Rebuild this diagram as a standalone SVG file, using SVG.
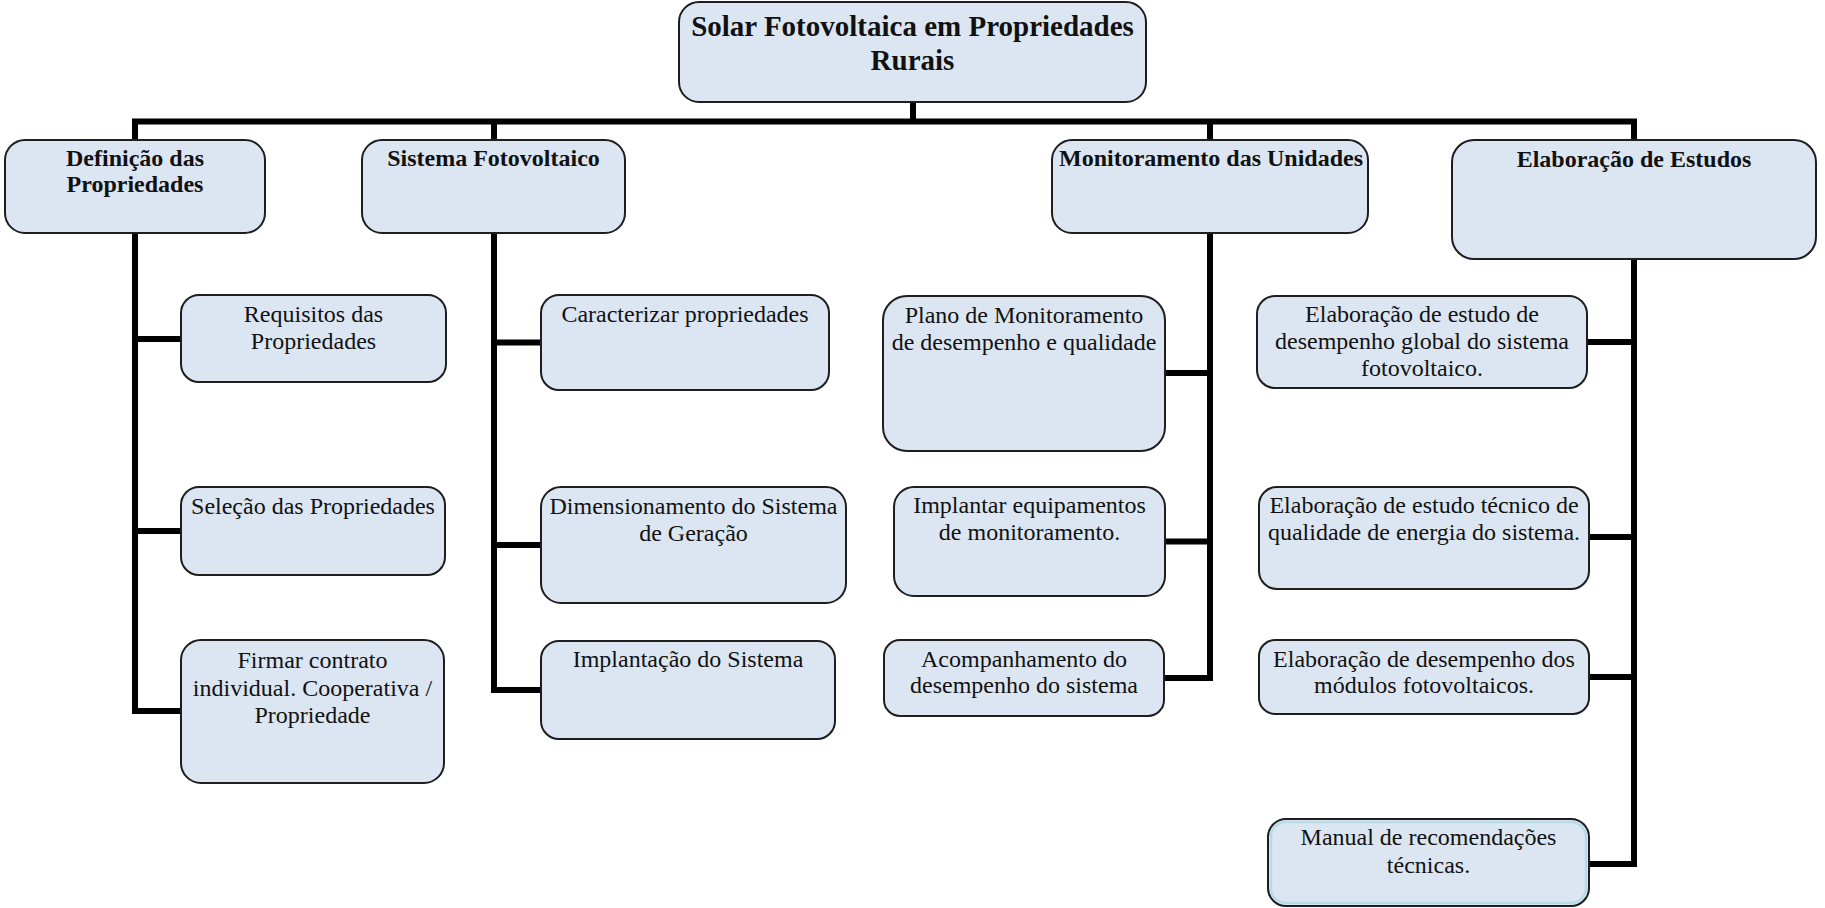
<svg xmlns="http://www.w3.org/2000/svg" width="1825" height="908" viewBox="0 0 1825 908">
<style>
.box{fill:#dce6f2;stroke:#1e1e1e;stroke-width:2}
.t{font-family:"Liberation Serif","Times New Roman",serif;font-size:24px;fill:#111;text-anchor:middle}
.h{font-weight:bold}
.r{font-size:29px;font-weight:bold}
.c{fill:none;stroke:#000;stroke-width:6;stroke-linejoin:miter;stroke-linecap:square}
</style>
<rect width="1825" height="908" fill="#fff"/>
<g id="connectors">
<path class="c" d="M913 102V121.5M135 121.5H1634M135 121.5V140M494 121.5V140M1210 121.5V140M1634 121.5V140"/>
<path class="c" d="M135 233V711M135 339H181M135 531H181M135 711H181"/>
<path class="c" d="M494 233V690M494 342.5H541M494 545H541M494 690H541"/>
<path class="c" d="M1210 233V678M1165 373H1210M1165 541.5H1210M1164 678H1210"/>
<path class="c" d="M1634 259V864M1587 342H1634M1589 537H1634M1589 677H1634M1589 864H1634"/>
</g>
<g id="root"><rect class="box" x="679" y="2" width="467" height="100" rx="20"/>
<text class="t r" x="912.5" y="36">Solar Fotovoltaica em Propriedades</text>
<text class="t r" x="912.5" y="70">Rurais</text></g>
<g id="definicao"><rect class="box" x="5" y="140" width="260" height="93" rx="20"/>
<text class="t h" x="135" y="166">Definição das</text>
<text class="t h" x="135" y="192">Propriedades</text></g>
<g id="sistema"><rect class="box" x="362" y="140" width="263" height="93" rx="20"/>
<text class="t h" x="493.5" y="166">Sistema Fotovoltaico</text></g>
<g id="monitoramento"><rect class="box" x="1052" y="140" width="316" height="93" rx="20"/>
<text class="t h" x="1211" y="166">Monitoramento das Unidades</text></g>
<g id="elaboracao"><rect class="box" x="1452" y="140" width="364" height="119" rx="22"/>
<text class="t h" x="1634" y="167">Elaboração de Estudos</text></g>
<g id="requisitos"><rect class="box" x="181" y="295" width="265" height="87" rx="18"/>
<text class="t" x="313.5" y="322">Requisitos das</text>
<text class="t" x="313.5" y="349">Propriedades</text></g>
<g id="selecao"><rect class="box" x="181" y="487" width="264" height="88" rx="18"/>
<text class="t" x="313" y="514">Seleção das Propriedades</text></g>
<g id="firmar"><rect class="box" x="181" y="640" width="263" height="143" rx="20"/>
<text class="t" x="312.5" y="668">Firmar contrato</text>
<text class="t" x="312.5" y="696">individual. Cooperativa /</text>
<text class="t" x="312.5" y="723">Propriedade</text></g>
<g id="caracterizar"><rect class="box" x="541" y="295" width="288" height="95" rx="18"/>
<text class="t" x="685" y="322">Caracterizar propriedades</text></g>
<g id="dimensionamento"><rect class="box" x="541" y="487" width="305" height="116" rx="20"/>
<text class="t" x="693.5" y="514">Dimensionamento do Sistema</text>
<text class="t" x="693.5" y="541">de Geração</text></g>
<g id="implantacao"><rect class="box" x="541" y="641" width="294" height="98" rx="18"/>
<text class="t" x="688" y="667">Implantação do Sistema</text></g>
<g id="plano"><rect class="box" x="883" y="296" width="282" height="155" rx="24"/>
<text class="t" x="1024" y="323">Plano de Monitoramento</text>
<text class="t" x="1024" y="350">de desempenho e qualidade</text></g>
<g id="implantar"><rect class="box" x="894" y="487" width="271" height="109" rx="20"/>
<text class="t" x="1029.5" y="513">Implantar equipamentos</text>
<text class="t" x="1029.5" y="540">de monitoramento.</text></g>
<g id="acompanhamento"><rect class="box" x="884" y="640" width="280" height="76" rx="16"/>
<text class="t" x="1024" y="667">Acompanhamento do</text>
<text class="t" x="1024" y="693">desempenho do sistema</text></g>
<g id="estudo-global"><rect class="box" x="1257" y="296" width="330" height="92" rx="18"/>
<text class="t" x="1422" y="322">Elaboração de estudo de</text>
<text class="t" x="1422" y="349">desempenho global do sistema</text>
<text class="t" x="1422" y="376">fotovoltaico.</text></g>
<g id="estudo-tecnico"><rect class="box" x="1259" y="487" width="330" height="102" rx="18"/>
<text class="t" x="1424" y="513">Elaboração de estudo técnico de</text>
<text class="t" x="1424" y="540">qualidade de energia do sistema.</text></g>
<g id="estudo-modulos"><rect class="box" x="1259" y="640" width="330" height="74" rx="16"/>
<text class="t" x="1424" y="667">Elaboração de desempenho dos</text>
<text class="t" x="1424" y="693">módulos fotovoltaicos.</text></g>
<g id="manual"><rect class="box" x="1268" y="819" width="321" height="87" rx="18"/>
<rect x="1271" y="822" width="315" height="81" rx="15" fill="none" stroke="#b6dde6" stroke-width="2.5"/>
<text class="t" x="1428.5" y="845">Manual de recomendações</text>
<text class="t" x="1428.5" y="873">técnicas.</text></g>
</svg>
